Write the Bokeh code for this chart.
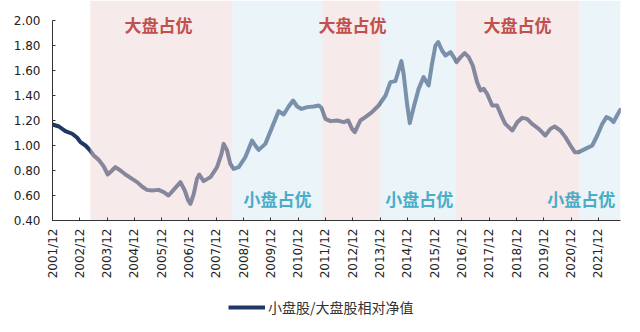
import math
import pandas as pd
from bokeh.plotting import figure
from bokeh.layouts import column
from bokeh.models import (Range1d, FixedTicker, DatetimeTickFormatter, Label,
                          Legend, LegendItem, NumeralTickFormatter, ColumnDataSource)
from bokeh.embed import file_html
from bokeh.resources import INLINE

# ---- data ----
dates = [
    "2001-12-01", "2002-02-25", "2002-05-22", "2002-08-22", "2002-10-28", "2002-12-10",
    "2003-02-15", "2003-04-12", "2003-06-06", "2003-08-12", "2003-10-18", "2003-12-10",
    "2004-02-06", "2004-03-21", "2004-05-28", "2004-08-03", "2004-11-01", "2005-01-06",
    "2005-03-12", "2005-05-18", "2005-07-24", "2005-10-21", "2005-12-28", "2006-03-03",
    "2006-05-09", "2006-08-09", "2006-10-06", "2006-11-21", "2006-12-21", "2007-02-03",
    "2007-03-18", "2007-04-18", "2007-06-15", "2007-09-15", "2007-12-12", "2008-02-09",
    "2008-03-09", "2008-04-24", "2008-06-06", "2008-07-21", "2008-09-27", "2008-12-24",
    "2009-03-24", "2009-05-06", "2009-06-21", "2009-09-18", "2009-12-18", "2010-03-15",
    "2010-05-21", "2010-07-27", "2010-09-24", "2010-11-18", "2011-01-15", "2011-04-01",
    "2011-06-27", "2011-09-03", "2011-10-09", "2011-12-01", "2012-02-06", "2012-05-06",
    "2012-08-03", "2012-10-01", "2012-11-21", "2012-12-28", "2013-03-12", "2013-05-18",
    "2013-08-15", "2013-11-12", "2014-02-12", "2014-04-18", "2014-06-24", "2014-08-06",
    "2014-09-12", "2014-10-12", "2014-11-27", "2015-01-03", "2015-02-24", "2015-05-01",
    "2015-07-06", "2015-09-12", "2015-10-27", "2015-12-12", "2016-01-18", "2016-03-09",
    "2016-04-24", "2016-07-01", "2016-08-12", "2016-09-18", "2016-11-12", "2017-01-06",
    "2017-03-01", "2017-04-24", "2017-06-21", "2017-08-06", "2017-09-18", "2017-11-03",
    "2018-01-09", "2018-03-15", "2018-05-21", "2018-07-03", "2018-10-06", "2018-12-12",
    "2019-02-15", "2019-04-21", "2019-06-27", "2019-09-24", "2019-12-21", "2020-02-27",
    "2020-04-24", "2020-07-09", "2020-09-15", "2020-11-21", "2021-01-18", "2021-03-12",
    "2021-06-09", "2021-09-09", "2021-11-15", "2022-01-21", "2022-03-18", "2022-05-09",
    "2022-06-21", "2022-08-06", "2022-09-18",
]
relative_nav = [
    1.168, 1.152, 1.115, 1.094, 1.062, 1.027,
    1.000, 0.965, 0.920, 0.885, 0.832, 0.768,
    0.800, 0.827, 0.800, 0.768, 0.733, 0.707,
    0.672, 0.645, 0.640, 0.645, 0.627, 0.600,
    0.645, 0.707, 0.640, 0.560, 0.533, 0.613,
    0.733, 0.768, 0.715, 0.747, 0.827, 0.933,
    1.013, 0.960, 0.853, 0.813, 0.827, 0.907,
    1.040, 1.000, 0.965, 1.013, 1.147, 1.275,
    1.248, 1.312, 1.360, 1.312, 1.293, 1.307,
    1.312, 1.320, 1.301, 1.213, 1.195, 1.200,
    1.187, 1.200, 1.133, 1.107, 1.200, 1.227,
    1.267, 1.320, 1.400, 1.507, 1.515, 1.600,
    1.675, 1.573, 1.333, 1.179, 1.307, 1.453,
    1.547, 1.480, 1.653, 1.800, 1.827, 1.760,
    1.720, 1.747, 1.707, 1.667, 1.707, 1.739,
    1.707, 1.640, 1.507, 1.440, 1.453, 1.413,
    1.320, 1.320, 1.227, 1.173, 1.120, 1.187,
    1.221, 1.213, 1.173, 1.133, 1.080, 1.133,
    1.152, 1.120, 1.067, 1.000, 0.947, 0.947,
    0.973, 1.000, 1.080, 1.173, 1.227, 1.213,
    1.187, 1.240, 1.285,
]
regime_start = ["2003-04-21", "2008-07-03", "2011-10-21", "2013-12-06", "2016-09-06", "2021-03-21"]
regime_end   = ["2008-07-03", "2011-10-21", "2013-12-06", "2016-09-06", "2021-03-21", "2022-09-22"]
regime_kind  = ["large", "small", "large", "small", "large", "small"]
y_ticks = [0.4, 0.6, 0.8, 1.0, 1.2, 1.4, 1.6, 1.8, 2.0]
tick_years = list(range(2001, 2022))
series_name = "小盘股/大盘股相对净值"
label_large = "大盘占优"
label_small = "小盘占优"

LINE_COLOR = "#1f3864"

x = pd.to_datetime(dates)
x_start = pd.Timestamp("2001-12-01")
x_end = pd.Timestamp("2022-09-22")
y_top = 2.16  # shading reaches the top edge above the 2.00 tick

p = figure(width=640, height=295, output_backend="svg", toolbar_location=None,
           x_axis_type="datetime",
           x_range=Range1d(x_start, x_end), y_range=Range1d(0.4, y_top),
           min_border_left=52, min_border_right=20, min_border_top=0, min_border_bottom=75)
p.grid.visible = False
p.outline_line_color = None
p.background_fill_color = "white"
p.border_fill_color = "white"

line = p.line(x, relative_nav, line_color=LINE_COLOR, line_width=4,
              line_join="round", line_cap="round")

# shaded regimes drawn over the line (semi-transparent)
fills = {"large": "#edd5d5", "small": "#d5e9f3"}
src = ColumnDataSource(dict(
    left=pd.to_datetime(regime_start), right=pd.to_datetime(regime_end),
    color=[fills[k] for k in regime_kind]))
p.quad(left="left", right="right", bottom=0.4, top=y_top, source=src,
       fill_color="color", fill_alpha=0.5, line_color=None)

# regime labels
large_pos = ["2005-10-19", "2012-11-28", "2018-12-13"]
small_pos = ["2010-02-28", "2015-05-10", "2021-04-16"]
for d in large_pos:
    p.add_layout(Label(x=pd.Timestamp(d), y=1.968, text=label_large, text_align="center",
                       text_baseline="middle", text_font="Noto Sans CJK SC",
                       text_font_style="bold", text_font_size="17px", text_color="#c0504d"))
for d in small_pos:
    p.add_layout(Label(x=pd.Timestamp(d), y=0.576, text=label_small, text_align="center",
                       text_baseline="middle", text_font="Noto Sans CJK SC",
                       text_font_style="bold", text_font_size="17px", text_color="#4bacc6"))

# axes
yax = p.yaxis[0]
yax.ticker = FixedTicker(ticks=y_ticks)
yax.bounds = (0.4, 2.0)
yax.formatter = NumeralTickFormatter(format="0.00")
yax.major_tick_in = 3
yax.major_tick_out = 0
yax.minor_tick_line_color = None
yax.major_label_standoff = 12
yax.axis_line_color = "#333333"
yax.major_tick_line_color = "#333333"
yax.major_label_text_font = "DejaVu Sans"
yax.major_label_text_font_size = "12px"
yax.major_label_text_color = "#222222"

xax = p.xaxis[0]
xax.ticker = FixedTicker(ticks=[pd.Timestamp(f"{y}-12-01").value / 1e6 for y in tick_years])
fmt = "%Y/%m"
xax.formatter = DatetimeTickFormatter(milliseconds=fmt, seconds=fmt, minsec=fmt, minutes=fmt,
                                      hourmin=fmt, hours=fmt, days=fmt, months=fmt, years=fmt)
xax.major_label_orientation = math.pi / 2
xax.major_tick_in = 3
xax.major_tick_out = 0
xax.minor_tick_line_color = None
xax.major_label_standoff = 8
xax.axis_line_color = "#333333"
xax.major_tick_line_color = "#333333"
xax.major_label_text_font = "DejaVu Sans"
xax.major_label_text_font_size = "12px"
xax.major_label_text_color = "#222222"

# legend strip below the chart (its line lies outside the visible range)
q = figure(width=640, height=37, output_backend="svg", toolbar_location=None,
           x_range=Range1d(0, 1), y_range=Range1d(0, 1),
           min_border=0, min_border_left=0, min_border_right=0,
           min_border_top=0, min_border_bottom=0)
q.axis.visible = False
q.grid.visible = False
q.outline_line_color = None
legend_line = q.line([5, 6], [5, 6], line_color=LINE_COLOR, line_width=4)
legend = Legend(items=[LegendItem(label=series_name, renderers=[legend_line])],
                location=(176, 15), orientation="horizontal",
                glyph_width=37, glyph_height=16, label_standoff=3,
                padding=0, margin=0, border_line_color=None, background_fill_alpha=0,
                label_text_font="Noto Sans CJK SC", label_text_font_size="14px",
                label_text_color="#333333")
q.add_layout(legend, "center")

open("out.html", "w").write(file_html(column(p, q, spacing=0), INLINE))
